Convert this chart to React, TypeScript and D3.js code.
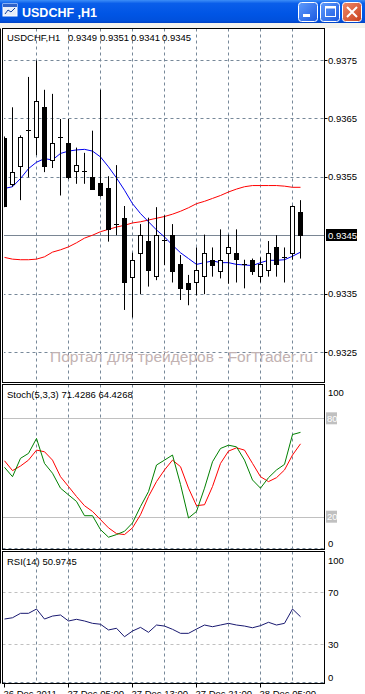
import React from 'react';
import * as d3 from 'd3';

// USDCHF H1 candles, 26 Dec 2011 21:00 onwards
const opens = [0.93617, 0.93538, 0.9357, 0.9363, 0.93618, 0.93669, 0.93579, 0.93617, 0.93608, 0.93559, 0.9356, 0.9355, 0.93539, 0.9353, 0.9347, 0.93479, 0.93379, 0.93419, 0.9344, 0.93379, 0.93441, 0.9345, 0.934, 0.93369, 0.93369, 0.93379, 0.93408, 0.9339, 0.93419, 0.93419, 0.93401, 0.93408, 0.93379, 0.9339, 0.93429, 0.93412, 0.93419, 0.9349];
const highs = [0.93619, 0.93669, 0.93621, 0.93721, 0.93749, 0.93699, 0.93692, 0.93649, 0.93649, 0.936, 0.93591, 0.93629, 0.93699, 0.93551, 0.9357, 0.935, 0.9342, 0.93469, 0.9348, 0.93498, 0.93484, 0.93469, 0.93416, 0.93382, 0.93429, 0.93451, 0.93429, 0.9346, 0.93451, 0.9346, 0.93408, 0.9341, 0.93412, 0.9344, 0.9345, 0.93429, 0.93501, 0.9351];
const lows = [0.93498, 0.93533, 0.9351, 0.93549, 0.93587, 0.93558, 0.93565, 0.93518, 0.93546, 0.93538, 0.93538, 0.93528, 0.93516, 0.93439, 0.9345, 0.93322, 0.93309, 0.93349, 0.93362, 0.93373, 0.93399, 0.93369, 0.93339, 0.9333, 0.93347, 0.93349, 0.93379, 0.93376, 0.93367, 0.93369, 0.93359, 0.93382, 0.93369, 0.93379, 0.93379, 0.93369, 0.93408, 0.9341];
const closes = [0.93501, 0.93559, 0.93619, 0.93628, 0.93679, 0.93568, 0.93608, 0.93619, 0.93549, 0.9357, 0.93558, 0.9353, 0.93518, 0.9346, 0.93468, 0.93369, 0.93408, 0.9345, 0.9339, 0.9345, 0.93439, 0.93389, 0.93359, 0.93359, 0.9339, 0.93419, 0.934, 0.93408, 0.93429, 0.93408, 0.93399, 0.9339, 0.934, 0.93419, 0.934, 0.9341, 0.935, 0.9345];

const maBlue = [0.9353, 0.93533, 0.93547, 0.93564, 0.93575, 0.93581, 0.93579, 0.9359, 0.93594, 0.93596, 0.93597, 0.93594, 0.93584, 0.93567, 0.93548, 0.93527, 0.93504, 0.93487, 0.93473, 0.93459, 0.93447, 0.93433, 0.9342, 0.9341, 0.934, 0.93403, 0.93406, 0.93403, 0.93403, 0.934, 0.93399, 0.93398, 0.93403, 0.93407, 0.93407, 0.93408, 0.93414, 0.93421];
const maRed = [0.93412, 0.93409, 0.93408, 0.93408, 0.93409, 0.93413, 0.93421, 0.93425, 0.9343, 0.93437, 0.93445, 0.9345, 0.93456, 0.9346, 0.93464, 0.93467, 0.93471, 0.93473, 0.93476, 0.93479, 0.93482, 0.93486, 0.93491, 0.93497, 0.93504, 0.93508, 0.93513, 0.93518, 0.93524, 0.93529, 0.93533, 0.93535, 0.93535, 0.93535, 0.93535, 0.93534, 0.93532, 0.93532];

const stochK = [50.1, 44.4, 55.6, 58.6, 67.7, 52.5, 46.5, 37.4, 33.3, 29.3, 20.6, 20.6, 12.1, 7.5, 9.1, 11.1, 16.2, 26.2, 35.3, 51.5, 54.5, 57.6, 39.7, 19.2, 23.2, 37.4, 53.5, 61.6, 63.6, 62.6, 54.5, 42.4, 37.4, 43.8, 48.5, 51.9, 70.1, 71.4286];
const stochD = [54.1, 48.1, 50.9, 54.5, 60.6, 59.6, 54.5, 44.4, 38.4, 32.3, 26.7, 23.2, 18.2, 13.2, 9.7, 9.1, 13.2, 21.2, 32.3, 41.4, 48.5, 54.5, 50.5, 37.4, 26.7, 27.3, 38.4, 52.5, 60, 62, 60.6, 52.5, 44.4, 41.4, 43.8, 48.5, 57.6, 64.4268];

const rsi = [49.2, 50.2, 53.6, 53.6, 56.9, 49.2, 51.5, 52.3, 47.7, 49, 47.7, 45.9, 45.2, 40.8, 42.1, 35.6, 40, 42.8, 39, 44.6, 43.8, 41.3, 38.2, 38.2, 41.5, 44.6, 43.3, 44.6, 45.9, 44.6, 43.8, 42.5, 44.1, 46.7, 44.6, 45.9, 56.9, 50.9745];

const priceTicks = [0.9375, 0.9365, 0.9355, 0.9335, 0.9325];
const lastPrice = 0.9345;
const stochLevels = [80, 20];
const rsiLevels = [70, 30];
const timeLabels = [
  { i: 0, t: '26 Dec 2011' },
  { i: 8, t: '27 Dec 05:00' },
  { i: 16, t: '27 Dec 13:00' },
  { i: 24, t: '27 Dec 21:00' },
  { i: 32, t: '28 Dec 05:00' },
];

const font = '"Liberation Sans", Arial, sans-serif';
const grid = '#778899';

const W = 365;
const H = 694;
const L = 2.5;
const R = 324.5;
const main = { top: 28.5, bottom: 382.5 };
const st = { top: 384.5, bottom: 549.5 };
const rs = { top: 551.5, bottom: 683.5 };

const App: React.FC = () => {
  const n = closes.length;
  const x = d3.scaleLinear().domain([0, n - 1]).range([4.5, 300.5]);
  const y = d3.scaleLinear().domain([0.9325, 0.9375]).range([352, 60]);
  const ys = d3.scaleLinear().domain([0, 100]).range([549.5, 385.5]);
  const yr = d3.scaleLinear().domain([0, 100]).range([683, 553]);

  const line = (arr: number[], sc: d3.ScaleLinear<number, number>) =>
    d3.line<number>().x((_, i) => x(i)).y((d) => sc(d))(arr) || '';

  const vGrid = d3.range(4, n, 4).map((i) => x(i));
  const px = (v: number) => Math.round(v) + 0.5;

  const vLines = (top: number, bottom: number) =>
    vGrid.map((gx, k) => (
      <line key={k} x1={gx} x2={gx} y1={top} y2={bottom} stroke={grid} strokeDasharray="3,3" />
    ));

  return (
    <div style={{ position: 'fixed', left: 0, top: 0 }}>
      <svg width={W} height={H} style={{ display: 'block', fontFamily: font }}>
        <defs>
          <linearGradient id="tb" x1="0" y1="0" x2="0" y2="1">
            <stop offset="0" stopColor="#3d8ef7" />
            <stop offset="0.15" stopColor="#0a5eea" />
            <stop offset="0.6" stopColor="#0055e5" />
            <stop offset="0.9" stopColor="#0050dc" />
            <stop offset="1" stopColor="#0042c4" />
          </linearGradient>
          <linearGradient id="btn" x1="0" y1="0" x2="1" y2="1">
            <stop offset="0" stopColor="#5f9cfc" />
            <stop offset="1" stopColor="#1a58e0" />
          </linearGradient>
          <linearGradient id="cls" x1="0" y1="0" x2="1" y2="1">
            <stop offset="0" stopColor="#f08a6a" />
            <stop offset="1" stopColor="#c8401c" />
          </linearGradient>
          <clipPath id="cm"><rect x={4} y={main.top} width={R - 4} height={main.bottom - main.top} /></clipPath>
          <clipPath id="cs"><rect x={L} y={st.top} width={R - L} height={st.bottom - st.top} /></clipPath>
          <clipPath id="cr"><rect x={L} y={rs.top} width={R - L} height={rs.bottom - rs.top} /></clipPath>
        </defs>

        <rect width={W} height={H} fill="#ffffff" />

        {/* title bar */}
        <rect x={0} y={0} width={W} height={23} fill="url(#tb)" />
        <rect x={0} y={23} width={W} height={5} fill="#f4f3ee" />
        <g>
          <rect x={3} y={4} width={14} height={12} fill="#e8eef8" stroke="#ffffff" />
          <rect x={3} y={4} width={14} height={3} fill="#2f62c8" />
          <path d="M5,14 L8,10 L11,12 L15,8" stroke="#1040a0" fill="none" />
        </g>
        <text x={22} y={17} fill="#ffffff" fontWeight="bold" fontSize={12.5}>USDCHF ,H1</text>
        <rect x={298.5} y={2.5} width={19} height={19} rx={3} fill="url(#btn)" stroke="#ffffff" />
        <rect x={303} y={14} width={7} height={3} fill="#ffffff" />
        <rect x={320.5} y={2.5} width={19} height={19} rx={3} fill="url(#btn)" stroke="#ffffff" />
        <rect x={325.5} y={6.5} width={10} height={10} fill="none" stroke="#ffffff" />
        <rect x={325.5} y={6.5} width={10} height={2} fill="#ffffff" />
        <rect x={342.5} y={2.5} width={19} height={19} rx={3} fill="url(#cls)" stroke="#ffffff" />
        <path d="M347,7 L357,17 M357,7 L347,17" stroke="#ffffff" strokeWidth={2} />

        {/* main panel */}
        <g clipPath="url(#cm)">
          {vLines(main.top, main.bottom)}
          {priceTicks.map((p) => (
            <line key={p} x1={L} x2={R} y1={px(y(p))} y2={px(y(p))} stroke={grid} strokeDasharray="3,3" />
          ))}
          <line x1={L} x2={R} y1={px(y(lastPrice))} y2={px(y(lastPrice))} stroke="#7a8694" />
          <path d={line(maRed, y)} fill="none" stroke="#ff0000" />
          <path d={line(maBlue, y)} fill="none" stroke="#0000ee" />
          {closes.map((c, i) => {
            const o = opens[i];
            const cx = x(i);
            const top = Math.min(y(o), y(c));
            const bot = Math.max(y(o), y(c));
            const doji = bot - top < 1.5;
            return (
              <g key={i}>
                <line x1={cx} x2={cx} y1={y(highs[i])} y2={y(lows[i])} stroke="#000" />
                {doji ? (
                  <line x1={cx - 2.5} x2={cx + 2.5} y1={px(top)} y2={px(top)} stroke="#000" />
                ) : (
                  <rect x={cx - 2} y={px(top)} width={4} height={Math.round(bot - top)} fill={c > o ? '#fff' : '#000'} stroke="#000" />
                )}
              </g>
            );
          })}
        </g>
        <text x={7} y={41} fontSize={9.5}>USDCHF,H1</text>
        <text x={68} y={41} fontSize={9.5}>{opens[n - 1].toFixed(4)}</text>
        <text x={100} y={41} fontSize={9.5}>{highs[n - 1].toFixed(4)}</text>
        <text x={131} y={41} fontSize={9.5}>{lows[n - 1].toFixed(4)}</text>
        <text x={162} y={41} fontSize={9.5}>{closes[n - 1].toFixed(4)}</text>

        {priceTicks.map((p) => (
          <g key={p}>
            <line x1={R} x2={R + 3} y1={px(y(p))} y2={px(y(p))} stroke="#000" />
            <text x={328} y={y(p) + 3.5} fontSize={9.5}>{p.toFixed(4)}</text>
          </g>
        ))}
        <rect x={326} y={229} width={31} height={12} fill="#000" />
        <text x={328} y={238.5} fontSize={9.5} fill="#fff">{lastPrice.toFixed(4)}</text>

        {/* stochastic */}
        <g clipPath="url(#cs)">
          {vLines(st.top, st.bottom)}
          <line x1={L} x2={R} y1={548.5} y2={548.5} stroke={grid} strokeDasharray="3,3" />
          {stochLevels.map((v) => (
            <line key={v} x1={L} x2={R} y1={px(ys(v))} y2={px(ys(v))} stroke="#c0c0c0" />
          ))}
          <path d={line(stochD, ys)} fill="none" stroke="#ff0000" />
          <path d={line(stochK, ys)} fill="none" stroke="#008000" />
        </g>
        <text x={7} y={398} fontSize={9.5}>Stoch(5,3,3) {stochK[n - 1].toFixed(4)} {stochD[n - 1].toFixed(4)}</text>
        <text x={328} y={396} fontSize={9.5}>100</text>
        {stochLevels.map((v) => (
          <g key={v}>
            <rect x={326} y={ys(v) - 6} width={11} height={12} fill="#c0c0c0" />
            <text x={327} y={ys(v) + 3.5} fontSize={9.5} fill="#fff">{v}</text>
          </g>
        ))}
        <text x={328} y={547} fontSize={9.5}>0</text>

        {/* RSI */}
        <g clipPath="url(#cr)">
          {vLines(rs.top, rs.bottom)}
          <line x1={L} x2={R} y1={682.5} y2={682.5} stroke={grid} strokeDasharray="3,3" />
          {rsiLevels.map((v) => (
            <line key={v} x1={L} x2={R} y1={px(yr(v))} y2={px(yr(v))} stroke="#c0c0c0" strokeDasharray="3,3" />
          ))}
          <path d={line(rsi, yr)} fill="none" stroke="#191970" />
        </g>
        <text x={7} y={565} fontSize={9.5}>RSI(14) {rsi[n - 1].toFixed(4)}</text>
        <text x={328} y={564} fontSize={9.5}>100</text>
        {rsiLevels.map((v) => (
          <text key={v} x={328} y={yr(v) + 3.5} fontSize={9.5}>{v}</text>
        ))}
        <text x={328} y={681} fontSize={9.5}>0</text>

        {/* frames */}
        <line x1={0.5} x2={0.5} y1={main.top} y2={rs.bottom} stroke="#000" />
        <rect x={L} y={main.top} width={R - L} height={main.bottom - main.top} fill="none" stroke="#000" />
        <rect x={L} y={st.top} width={R - L} height={st.bottom - st.top} fill="none" stroke="#000" />
        <rect x={L} y={rs.top} width={R - L} height={rs.bottom - rs.top} fill="none" stroke="#000" />

        {/* time axis */}
        {timeLabels.map((d) => (
          <g key={d.i}>
            <line x1={x(d.i)} x2={x(d.i)} y1={rs.bottom} y2={rs.bottom + 4} stroke="#000" />
            <text x={x(d.i) - 1} y={697} fontSize={9.5}>{d.t}</text>
          </g>
        ))}

        {/* watermark */}
        <text x={50} y={362} fontSize={15.5} fill="#c2b2b2">Портал для трейдеров - ForTrader.ru</text>
      </svg>
    </div>
  );
};

export default App;
